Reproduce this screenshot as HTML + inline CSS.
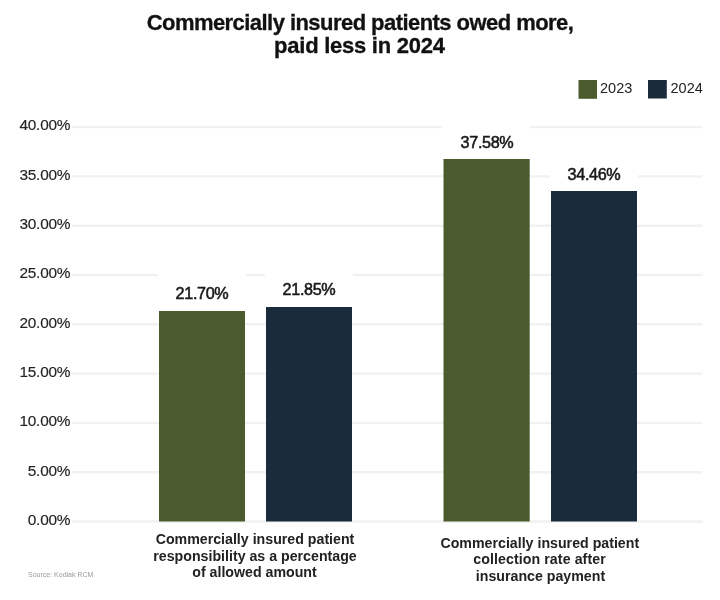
<!DOCTYPE html>
<html><head><meta charset="utf-8">
<style>
html,body{margin:0;padding:0;background:#fff;}
body{width:720px;height:600px;position:relative;overflow:hidden;font-family:"Liberation Sans",sans-serif;}
#w{position:absolute;left:0;top:0;width:720px;height:600px;filter:blur(0.45px);}
svg{position:absolute;left:0;top:0;}
.t{position:absolute;white-space:nowrap;line-height:1;}
.title{left:0;width:720px;text-align:center;font-weight:bold;font-size:22px;color:#111;-webkit-text-stroke:0.3px #111;}
.yl{position:absolute;left:0;width:70.2px;text-align:right;font-size:15.4px;color:#222;line-height:1;-webkit-text-stroke:0.15px #222;letter-spacing:-0.25px;}
.lab{position:absolute;text-align:center;font-size:16.2px;color:#1a1a1a;line-height:1;letter-spacing:-0.35px;-webkit-text-stroke:0.55px #1a1a1a;white-space:nowrap;}
.cat{position:absolute;text-align:center;font-weight:bold;font-size:14.2px;color:#222;line-height:16.6px;white-space:nowrap;}
.legt{position:absolute;font-size:14.5px;color:#222;line-height:1;}
</style></head><body><div id="w">
<svg width="720" height="600" viewBox="0 0 720 600">
  <g stroke="#f1f1f1" stroke-width="2.4">
    <line x1="72" y1="127.1" x2="702.5" y2="127.1"/>
    <line x1="72" y1="176.4" x2="702.5" y2="176.4"/>
    <line x1="72" y1="225.7" x2="702.5" y2="225.7"/>
    <line x1="72" y1="275.0" x2="702.5" y2="275.0"/>
    <line x1="72" y1="324.3" x2="702.5" y2="324.3"/>
    <line x1="72" y1="373.6" x2="702.5" y2="373.6"/>
    <line x1="72" y1="422.9" x2="702.5" y2="422.9"/>
    <line x1="72" y1="472.2" x2="702.5" y2="472.2"/>
    <line x1="72" y1="521.5" x2="702.5" y2="521.5"/>
  </g>
  <g fill="#fff">
    <rect x="158" y="272" width="88" height="40"/>
    <rect x="265" y="268" width="88" height="40"/>
    <rect x="442.5" y="120" width="88" height="40"/>
    <rect x="550" y="152" width="88" height="40"/>
  </g>
  <g fill="#4a5c2e">
    <rect x="159" y="311" width="86" height="210.5"/>
    <rect x="443.5" y="159" width="86.2" height="362.5"/>
    <rect x="578.5" y="80" width="18.5" height="18.8"/>
  </g>
  <g fill="#1a2b3b">
    <rect x="266" y="307" width="86" height="214.5"/>
    <rect x="551" y="191" width="86" height="330.5"/>
    <rect x="648" y="80" width="18.8" height="18.5"/>
  </g>
</svg>
<div class="t title" style="top:11.5px;letter-spacing:-0.55px">Commercially insured patients owed more,</div>
<div class="t title" style="top:34.5px;letter-spacing:-0.25px;margin-left:-0.6px">paid less in 2024</div>

<div class="legt" style="left:600px;top:81px">2023</div>
<div class="legt" style="left:670.5px;top:81px">2024</div>

<div class="yl" style="top:117.4px">40.00%</div>
<div class="yl" style="top:166.7px">35.00%</div>
<div class="yl" style="top:216px">30.00%</div>
<div class="yl" style="top:265.3px">25.00%</div>
<div class="yl" style="top:314.6px">20.00%</div>
<div class="yl" style="top:363.9px">15.00%</div>
<div class="yl" style="top:413.2px">10.00%</div>
<div class="yl" style="top:462.5px">5.00%</div>
<div class="yl" style="top:511.8px">0.00%</div>

<div class="lab" style="left:152px;width:100px;top:284.5px">21.70%</div>
<div class="lab" style="left:259px;width:100px;top:280.5px">21.85%</div>
<div class="lab" style="left:437px;width:100px;top:134px">37.58%</div>
<div class="lab" style="left:544px;width:100px;top:165.5px">34.46%</div>

<div class="cat" style="left:155px;width:200px;top:531px">Commercially insured patient</div>
<div class="cat" style="left:153.3px;width:200px;top:547.6px">responsibility as a percentage</div>
<div class="cat" style="left:154.5px;width:200px;top:564.2px">of allowed amount</div>
<div class="cat" style="left:439.8px;width:200px;top:534.5px">Commercially insured patient</div>
<div class="cat" style="left:439.5px;width:200px;top:551.1px;letter-spacing:0.08px">collection rate after</div>
<div class="cat" style="left:440.5px;width:200px;top:567.7px">insurance payment</div>

<div class="t" style="left:28px;top:570.5px;font-size:7px;color:#999">Source: Kodiak RCM</div>
</div></body></html>
